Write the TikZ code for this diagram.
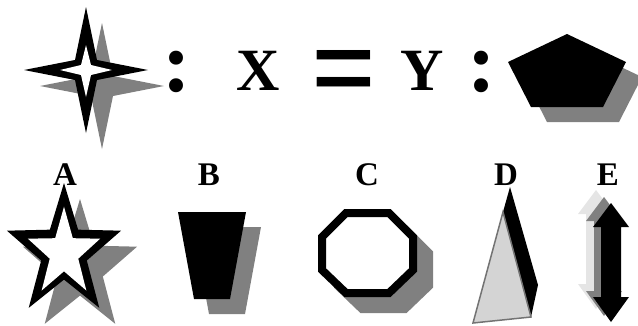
\documentclass[tikz,border=0pt]{standalone}
\usepackage{fontspec}
\setmainfont{Liberation Serif}
\begin{document}
\begin{tikzpicture}[x=1pt, y=-1pt,
  shadow/.style={fill=black!50},
  bigtxt/.style={font=\bfseries\fontsize{60}{60}\selectfont, inner sep=0pt, anchor=base},
  colontxt/.style={font=\bfseries\fontsize{86}{86}\selectfont, inner sep=0pt, anchor=base},
  lbl/.style={font=\bfseries\fontsize{33}{33}\selectfont, inner sep=0pt, anchor=base}]
\useasboundingbox (0,0) rectangle (638,325);
% four point star
\fill[shadow, shift={(16,16)}] (86,7) -- (97,60) -- (148,70) -- (97,80) -- (86,133) -- (75,80) -- (24,70) -- (75,60) -- cycle;
\fill[black] (86,7) -- (97,60) -- (148,70) -- (97,80) -- (86,133) -- (75,80) -- (24,70) -- (75,60) -- cycle;
\fill[white] (86,45) -- (91,65) -- (112,70) -- (91,75) -- (86,97) -- (81,75) -- (60,70) -- (81,65) -- cycle;
% X = Y
\node[colontxt] (c1) at (177,91) {:};
\node[bigtxt] (x) at (258,90) {X};
\node[bigtxt, font=\bfseries\fontsize{135}{135}\selectfont, xscale=0.85] (eq) at (344.5,113) {=};
\node[bigtxt] (y) at (422,90) {Y};
\node[colontxt] (c2) at (482,91) {:};
% pentagon
\fill[shadow, shift={(16,15)}] (567,34) -- (626,62) -- (603,107) -- (531,107) -- (508,62) -- cycle;
\fill[black] (567,34) -- (626,62) -- (603,107) -- (531,107) -- (508,62) -- cycle;
% labels
\node[lbl] (la) at (65,185) {A};
\node[lbl] (lb) at (209,185) {B};
\node[lbl] (lc) at (367,185) {C};
\node[lbl] (ld) at (506,185) {D};
\node[lbl] (le) at (608,185) {E};
% A: star
\fill[shadow, shift={(80,268)}, yscale=1.15] (-90:60) -- (-54:24) -- (-18:60) -- (18:24) -- (54:60) -- (90:24) -- (126:60) -- (162:24) -- (198:60) -- (234:24) -- cycle;
\fill[black, shift={(64,252)}, yscale=1.15] (-90:60) -- (-54:24) -- (-18:60) -- (18:24) -- (54:60) -- (90:24) -- (126:60) -- (162:24) -- (198:60) -- (234:24) -- cycle;
\fill[white, shift={(64,253)}, yscale=1.22] (-90:38) -- (-54:15) -- (-18:38) -- (18:15) -- (54:38) -- (90:15) -- (126:38) -- (162:15) -- (198:38) -- (234:15) -- cycle;
% B: trapezoid
\fill[shadow, shift={(15,15)}] (178,212) -- (246,212) -- (230,299) -- (194,299) -- cycle;
\fill[black] (178,212) -- (246,212) -- (230,299) -- (194,299) -- cycle;
% C: octagon
\draw[shadow, draw=black!50, line width=8pt, shift={(16,16)}] (346,213) -- (389,213) -- (413,237) -- (413,270) -- (389,293) -- (346,293) -- (322,270) -- (322,237) -- cycle;
\draw[fill=white, line width=8pt] (346,213) -- (389,213) -- (413,237) -- (413,270) -- (389,293) -- (346,293) -- (322,270) -- (322,237) -- cycle;
% D: triangle
\fill[black] (510,187) -- (538,285) -- (531,317) -- (503,212) -- cycle;
\draw[fill=black!17, draw=black!55, line width=1.5pt] (503,212) -- (531,317) -- (473,323) -- cycle;
% E: double arrows
\fill[black!10, shift={(-15,-13)}] (611,203) -- (629,227) -- (621,227) -- (621,297) -- (629,297) -- (611,322) -- (593,297) -- (601,297) -- (601,227) -- (593,227) -- cycle;
\fill[black!50, shift={(-7,-6)}] (611,203) -- (629,227) -- (621,227) -- (621,297) -- (629,297) -- (611,322) -- (593,297) -- (601,297) -- (601,227) -- (593,227) -- cycle;
\fill[black] (611,203) -- (629,227) -- (621,227) -- (621,297) -- (629,297) -- (611,322) -- (593,297) -- (601,297) -- (601,227) -- (593,227) -- cycle;
\end{tikzpicture}
\end{document}
